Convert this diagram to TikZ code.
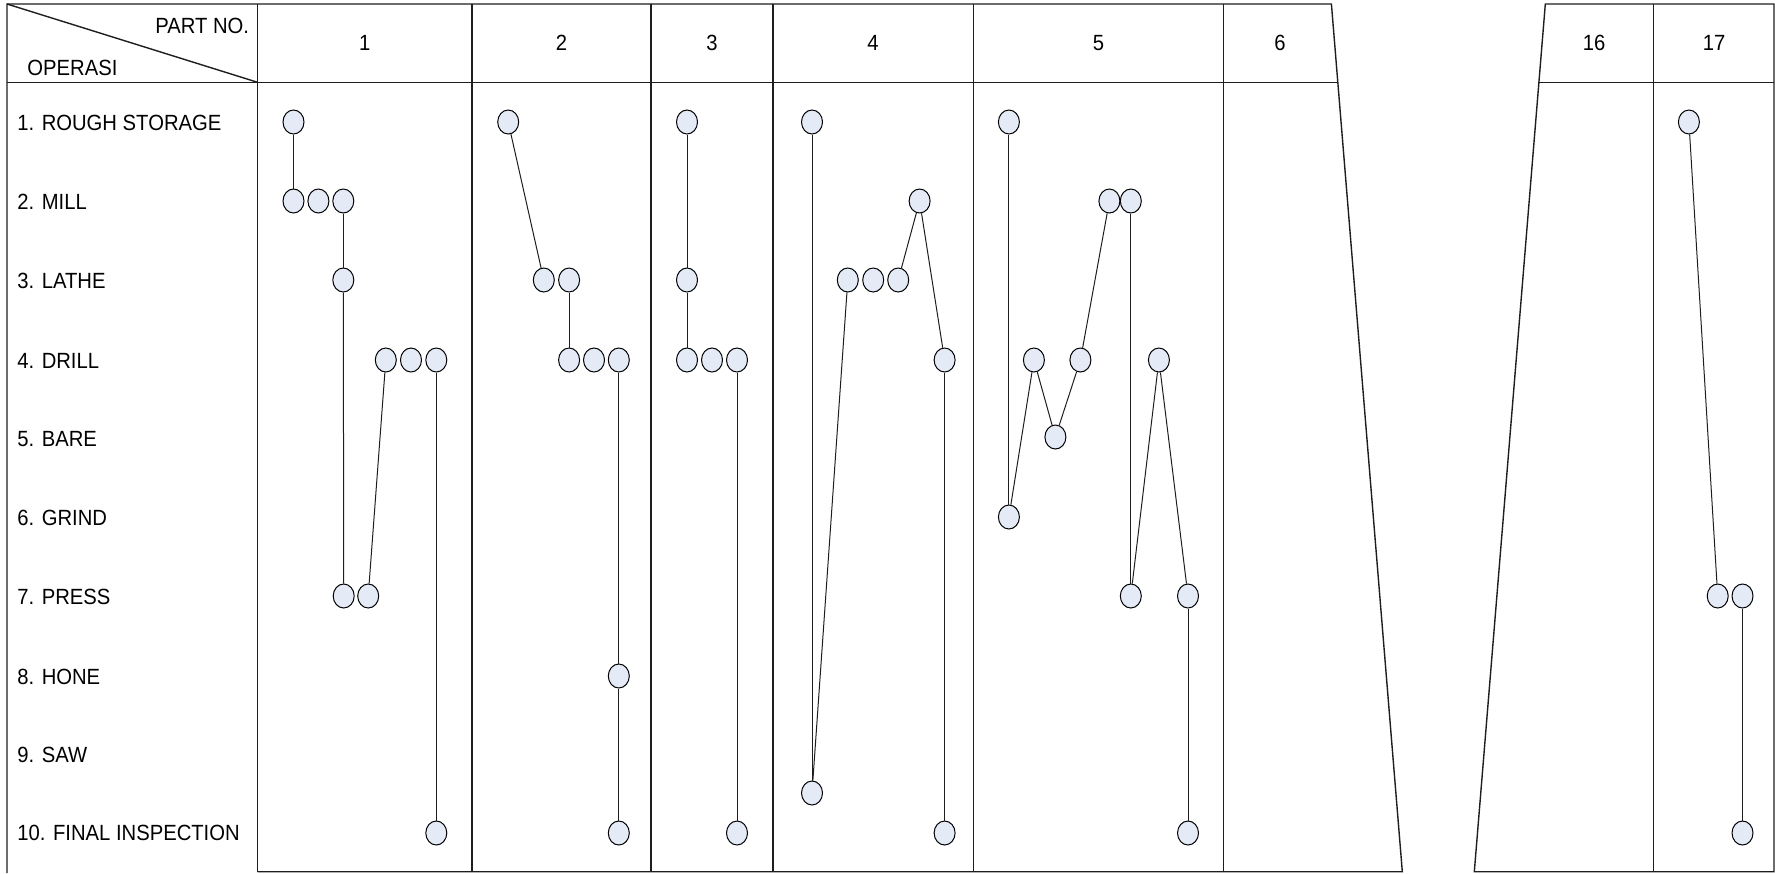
\documentclass[tikz,border=0pt]{standalone}
\usepackage{fontspec}
\setmainfont{Liberation Sans}[FakeStretch=0.92]
\usepackage{tikz}
\usetikzlibrary{shapes.geometric}
\definecolor{opfill}{HTML}{E4EBF7}
\definecolor{opline}{HTML}{1E1E1E}
\tikzset{
  % tabell
  gridline/.style={draw=opline,line width=0.7pt},
  oplbl/.style={anchor=base west,inner sep=0pt,font=\fontsize{11}{13}\selectfont},
  partlbl/.style={anchor=base,inner sep=0pt,font=\fontsize{11}{13}\selectfont},
  % flöden
  op/.style={ellipse,draw=black,fill=opfill,line width=0.5pt,inner sep=0pt,
             minimum width=10.5pt,minimum height=12pt},
  flow/.style={draw=opline,line width=0.5pt},
}

\begin{document}
\begin{tikzpicture}[x=0.5pt,y=-0.5pt]
  \useasboundingbox (0,0) rectangle (1775,873);
  % ramen
  \draw[gridline] (7,873) -- (7,4) -- (1331.4,4) -- (1402.3,871.7) -- (257.6,871.7);
  \draw[gridline] (7,82.3) -- (1337.7,82.3);
  \draw[gridline] (7,4) -- (257.6,82.3);
  \draw[gridline] (257.6,4) -- (257.6,871.7);
  \draw[gridline] (471.9,4) -- (471.9,871.7);
  \draw[gridline] (650.9,4) -- (650.9,871.7);
  \draw[gridline] (772.8,4) -- (772.8,871.7);
  \draw[gridline] (973.2,4) -- (973.2,871.7);
  \draw[gridline] (1223.7,4) -- (1223.7,871.7);
  \draw[gridline] (1474.3,871.7) -- (1545.3,4) -- (1774,4) -- (1774,871.7) -- cycle;
  \draw[gridline] (1538.9,82.3) -- (1774,82.3);
  \draw[gridline] (1653.4,4) -- (1653.4,871.7);
  % rubriker
  \node[anchor=base east,inner sep=0pt,font=\fontsize{11}{13}\selectfont] (partno) at (249.5,33.3) {PART NO.};
  \node[oplbl] (operasi) at (27,75) {OPERASI};
  \node[partlbl] (h1) at (364.7,50) {1};
  \node[partlbl] (h2) at (561.4,50) {2};
  \node[partlbl] (h3) at (711.9,50) {3};
  \node[partlbl] (h4) at (873,50) {4};
  \node[partlbl] (h5) at (1098.5,50) {5};
  \node[partlbl] (h6) at (1280,50) {6};
  \node[partlbl] (h16) at (1594,50) {16};
  \node[partlbl] (h17) at (1714,50) {17};
  \node[oplbl] (op1) at (17,130) {1. ROUGH STORAGE};
  \node[oplbl] (op2) at (17,209) {2. MILL};
  \node[oplbl] (op3) at (17,288) {3. LATHE};
  \node[oplbl] (op4) at (17,368) {4. DRILL};
  \node[oplbl] (op5) at (17,446) {5. BARE};
  \node[oplbl] (op6) at (17,525) {6. GRIND};
  \node[oplbl] (op7) at (17,604) {7. PRESS};
  \node[oplbl] (op8) at (17,684) {8. HONE};
  \node[oplbl] (op9) at (17,762) {9. SAW};
  \node[oplbl] (op10) at (17,840) {10. FINAL INSPECTION};
  % part 1
  \node[op] (p1a) at (293.5,122) {};
  \node[op] (p1b) at (293.5,201) {};
  \node[op] (p1c) at (318.4,201) {};
  \node[op] (p1d) at (343.3,201) {};
  \node[op] (p1e) at (343.3,280) {};
  \node[op] (p1f) at (385.8,360) {};
  \node[op] (p1g) at (411,360) {};
  \node[op] (p1h) at (436.3,360) {};
  \node[op] (p1i) at (343.7,596) {};
  \node[op] (p1j) at (368.2,596) {};
  \node[op] (p1k) at (436.3,833) {};
  \draw[flow] (p1a) -- (p1b);
  \draw[flow] (p1d) -- (p1e);
  \draw[flow] (p1e) -- (p1i);
  \draw[flow] (p1f) -- (p1j);
  \draw[flow] (p1h) -- (p1k);
  % part 2
  \node[op] (p2a) at (508.2,122) {};
  \node[op] (p2b) at (543.8,280) {};
  \node[op] (p2c) at (569.1,280) {};
  \node[op] (p2d) at (569.1,360) {};
  \node[op] (p2e) at (594,360) {};
  \node[op] (p2f) at (618.8,360) {};
  \node[op] (p2g) at (618.8,676) {};
  \node[op] (p2h) at (618.8,833) {};
  \draw[flow] (p2a) -- (p2b);
  \draw[flow] (p2c) -- (p2d);
  \draw[flow] (p2f) -- (p2g);
  \draw[flow] (p2g) -- (p2h);
  % part 3
  \node[op] (p3a) at (687,122) {};
  \node[op] (p3b) at (687,280) {};
  \node[op] (p3c) at (687,360) {};
  \node[op] (p3d) at (712,360) {};
  \node[op] (p3e) at (737,360) {};
  \node[op] (p3f) at (737,833) {};
  \draw[flow] (p3a) -- (p3b);
  \draw[flow] (p3b) -- (p3c);
  \draw[flow] (p3e) -- (p3f);
  % part 4
  \node[op] (p4a) at (812,122) {};
  \node[op] (p4b) at (919.6,201) {};
  \node[op] (p4c) at (847.8,280) {};
  \node[op] (p4d) at (873.2,280) {};
  \node[op] (p4e) at (898.2,280) {};
  \node[op] (p4f) at (944.6,360) {};
  \node[op] (p4g) at (812,793) {};
  \node[op] (p4h) at (944.6,833) {};
  \draw[flow] (p4a) -- (p4g);
  \draw[flow] (p4g) -- (p4c);
  \draw[flow] (p4e) -- (p4b);
  \draw[flow] (p4b) -- (p4f);
  \draw[flow] (p4f) -- (p4h);
  % part 5
  \node[op] (p5a) at (1008.9,122) {};
  \node[op] (p5b) at (1109.4,201) {};
  \node[op] (p5c) at (1130.8,201) {};
  \node[op] (p5d) at (1033.9,360) {};
  \node[op] (p5e) at (1080.4,360) {};
  \node[op] (p5f) at (1158.9,360) {};
  \node[op] (p5g) at (1055.4,437) {};
  \node[op] (p5h) at (1008.9,517) {};
  \node[op] (p5i) at (1130.8,596) {};
  \node[op] (p5j) at (1188,596) {};
  \node[op] (p5k) at (1188,833) {};
  \draw[flow] (p5a) -- (p5h);
  \draw[flow] (p5h) -- (p5d);
  \draw[flow] (p5d) -- (p5g);
  \draw[flow] (p5g) -- (p5e);
  \draw[flow] (p5e) -- (p5b);
  \draw[flow] (p5c) -- (p5i);
  \draw[flow] (p5i) -- (p5f);
  \draw[flow] (p5f) -- (p5j);
  \draw[flow] (p5j) -- (p5k);
  % part 17
  \node[op] (p17a) at (1688.9,122) {};
  \node[op] (p17b) at (1717.7,596) {};
  \node[op] (p17c) at (1742.5,596) {};
  \node[op] (p17d) at (1742.5,833) {};
  \draw[flow] (p17a) -- (p17b);
  \draw[flow] (p17c) -- (p17d);
\end{tikzpicture}
\end{document}
